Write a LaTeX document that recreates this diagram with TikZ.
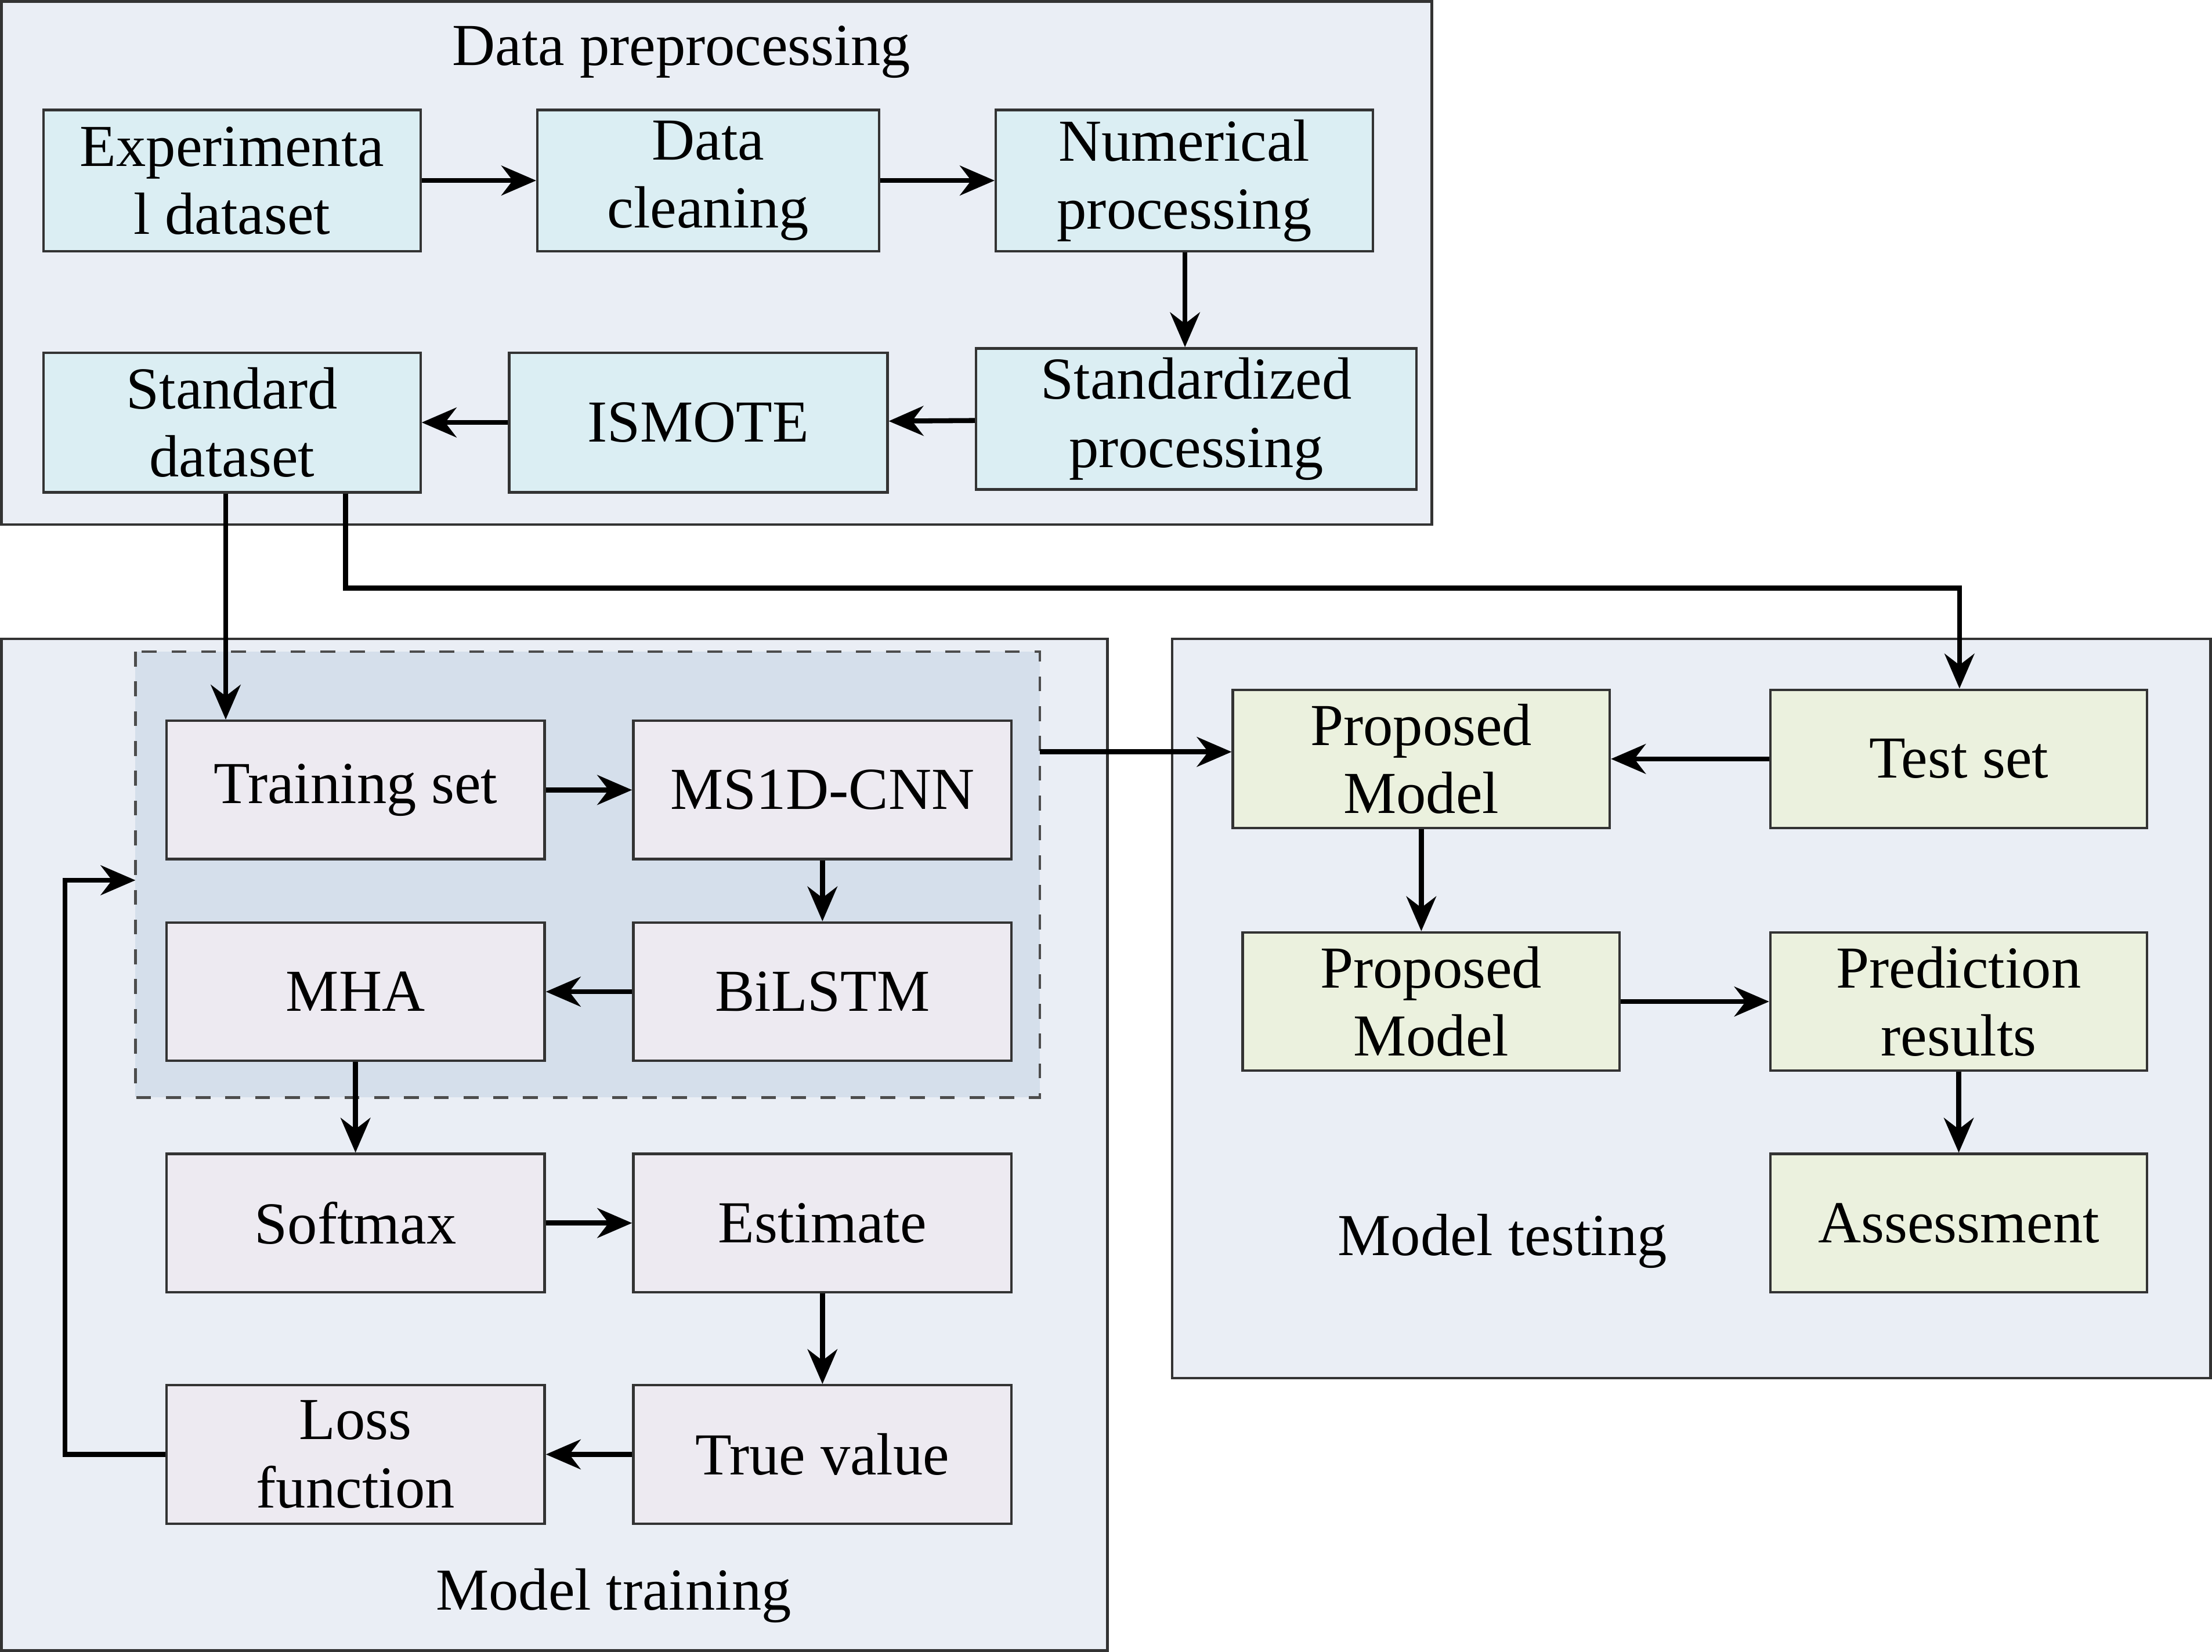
\documentclass[tikz,border=0pt]{standalone}
\usepackage{fontspec}
\setmainfont{Liberation Serif}
\usetikzlibrary{arrows.meta}
\definecolor{panel}{HTML}{EAEEF5}
\definecolor{dashfill}{HTML}{D5DFEB}
\definecolor{prepfill}{HTML}{DBEEF3}
\definecolor{trainfill}{HTML}{EDEAF1}
\definecolor{testfill}{HTML}{EBF1DE}
\tikzset{
  panelbox/.style={draw=black!80, fill=panel, line width=0.5pt},
  blockbox/.style={draw=black!80, line width=0.5pt, align=center,
    inner sep=0pt, font=\fontsize{12}{13.7}\selectfont},
  prep/.style={blockbox, fill=prepfill},
  trn/.style={blockbox, fill=trainfill},
  tst/.style={blockbox, fill=testfill},
  arr/.style={-{Stealth[length=7pt,width=6pt]}, line width=1pt},
  title/.style={font=\fontsize{12}{13.7}\selectfont}
}
\begin{document}
\begin{tikzpicture}[x=0.01cm,y=-0.01cm]
    \useasboundingbox (0,0) rectangle (1568,1171);
    % panels
    \draw[panelbox] (1,1) rectangle (1015,372);
    \draw[panelbox] (1,453) rectangle (785,1170);
    \draw[panelbox] (831,453) rectangle (1567,977);
    \draw[draw=black!70, fill=dashfill, dashed, line width=0.5pt] (96,462) rectangle (737,778);
    \node[title] (tprep) at (483,37) {Data preprocessing};
    \node[title] (ttrain) at (435,1131) {Model training};
    \node[title] (ttest) at (1065,880) {Model testing};
    % data preprocessing
    \node[prep, minimum width=2.67cm, minimum height=1cm] (exp) at (164.5,128) {Experimenta\\l dataset};
    \node[prep, minimum width=2.42cm, minimum height=1cm] (clean) at (502,128) {Data\\cleaning};
    \node[prep, minimum width=2.67cm, minimum height=1cm] (num) at (839.5,128) {Numerical\\processing};
    \node[prep, minimum width=3.12cm, minimum height=1cm] (stdproc) at (848,297) {Standardized\\processing};
    \node[prep, minimum width=2.68cm, minimum height=0.99cm] (ismote) at (495,299.5) {ISMOTE};
    \node[prep, minimum width=2.67cm, minimum height=0.99cm] (stdds) at (164.5,299.5) {Standard\\dataset};
    % model training
    \node[trn, minimum width=2.68cm, minimum height=0.98cm] (train) at (252,560) {Training set};
    \node[trn, minimum width=2.68cm, minimum height=0.98cm] (cnn) at (583,560) {MS1D-CNN};
    \node[trn, minimum width=2.68cm, minimum height=0.98cm] (mha) at (252,703) {MHA};
    \node[trn, minimum width=2.68cm, minimum height=0.98cm] (bilstm) at (583,703) {BiLSTM};
    \node[trn, minimum width=2.68cm, minimum height=0.98cm] (softmax) at (252,867) {Softmax};
    \node[trn, minimum width=2.68cm, minimum height=0.98cm] (estimate) at (583,867) {Estimate};
    \node[trn, minimum width=2.68cm, minimum height=0.98cm] (loss) at (252,1031) {Loss\\function};
    \node[trn, minimum width=2.68cm, minimum height=0.98cm] (truev) at (583,1031) {True value};
    % model testing
    \node[tst, minimum width=2.67cm, minimum height=0.98cm] (pm1) at (1007.5,538) {Proposed\\Model};
    \node[tst, minimum width=2.67cm, minimum height=0.98cm] (testset) at (1388.5,538) {Test set};
    \node[tst, minimum width=2.67cm, minimum height=0.98cm] (pm2) at (1014.5,710) {Proposed\\Model};
    \node[tst, minimum width=2.67cm, minimum height=0.98cm] (pred) at (1388.5,710) {Prediction\\results};
    \node[tst, minimum width=2.67cm, minimum height=0.98cm] (assess) at (1388.5,867) {Assessment};
    \coordinate (dashE) at (737,533);
    \coordinate (dashW) at (96,624);
    % connectors
    \draw[arr] (exp) -- (clean);
    \draw[arr] (clean) -- (num);
    \draw[arr] (num.south -| 840,0) -- (stdproc.north -| 840,0);
    \draw[arr] (stdproc) -- (ismote);
    \draw[arr] (ismote) -- (stdds);
    \draw[arr] (stdds.south -| 160,0) -- (train.north -| 160,0);
    \draw[arr] (stdds.south -| 245,0) |- (1389,417) -- (testset.north -| 1389,0);
    \draw[arr] (dashE) -- (pm1.west |- dashE);
    \draw[arr] (testset) -- (pm1);
    \draw[arr] (pm1.south) -- (pm1.south |- pm2.north);
    \draw[arr] (pm2) -- (pred);
    \draw[arr] (pred) -- (assess);
    \draw[arr] (train) -- (cnn);
    \draw[arr] (cnn) -- (bilstm);
    \draw[arr] (bilstm) -- (mha);
    \draw[arr] (mha) -- (softmax);
    \draw[arr] (softmax) -- (estimate);
    \draw[arr] (estimate) -- (truev);
    \draw[arr] (truev) -- (loss);
    \draw[arr] (loss.west) -- (46,1031) |- (dashW);
\end{tikzpicture}
\end{document}
